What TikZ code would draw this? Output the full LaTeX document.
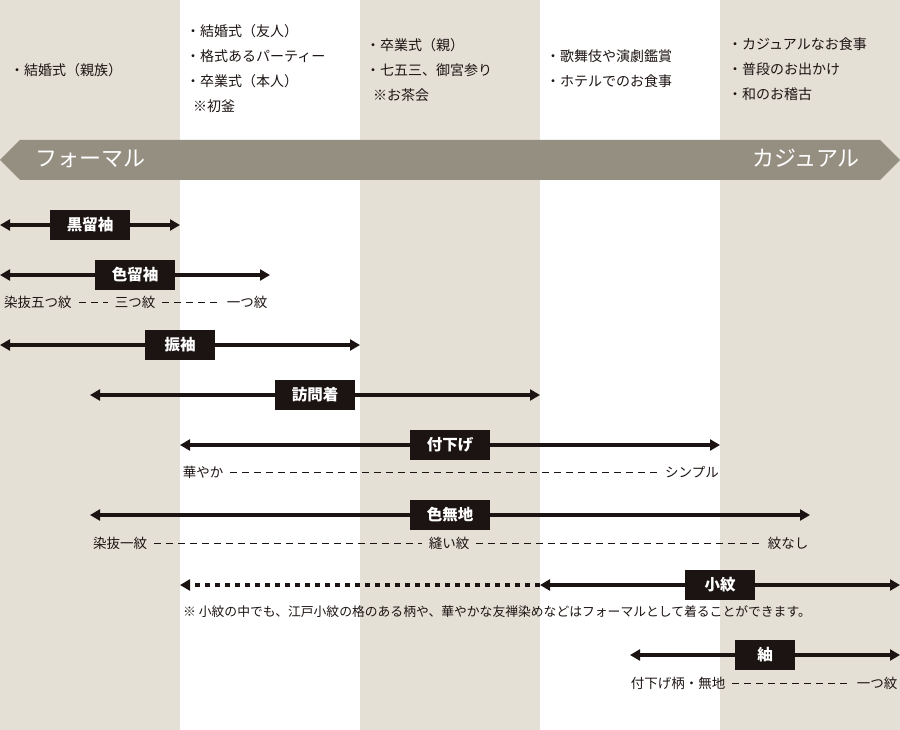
\documentclass[tikz,border=0pt]{standalone}
\usepackage{fontspec}
\setmainfont{Noto Sans CJK JP}
\usetikzlibrary{arrows.meta}
\definecolor{beige}{HTML}{E4E0D6}
\definecolor{banner}{HTML}{958F82}
\definecolor{ink}{HTML}{1C1412}

\begin{document}
\begin{tikzpicture}[x=1pt, y=-1pt,
    scene/.style={inner sep=0pt, anchor=west, align=left, text=ink, font=\fontsize{14}{25}\selectfont},
    bannertext/.style={inner sep=0pt, text height=19.4pt, text depth=2.6pt, text=white, font=\fontsize{22}{22}\selectfont},
    kimono/.style={inner sep=0pt, text height=13.6pt, text depth=1.9pt, fill=ink, text=white, minimum height=30pt, font=\bfseries\fontsize{15.5}{15.5}\selectfont},
    arr/.style={draw=ink, line width=4pt, -{Triangle[length=10pt, width=11pt]}},
    dotarr/.style={arr, dash pattern=on 5pt off 5pt},
    grade/.style={inner ysep=0pt, inner xsep=7pt, text height=11.9pt, text depth=1.6pt, text=ink, font=\fontsize{13.5}{13.5}\selectfont},
    gradeline/.style={draw=ink, line width=0.8pt, dash pattern=on 7pt off 5pt},
    note/.style={inner sep=0pt, text height=11.3pt, text depth=1.5pt, anchor=west, text=ink, font=\fontsize{12.8}{12.8}\selectfont}]
    \useasboundingbox (0,0) rectangle (900,730);
    % Columns
    \foreach \c in {0,360,720} {
        \fill[beige] (\c,0) rectangle ++(180,730);
    }
    % Banner
    \fill[banner] (0,160) -- (20,140) -- (880,140) -- (900,160) -- (880,180) -- (20,180) -- cycle;
    \node[bannertext, anchor=west] (Formal) at (35,158) {フォーマル};
    \node[bannertext, anchor=east] (Casual) at (860,158) {カジュアル};
    % Occasions
    \node[scene] (Scene-1) at (10,70) {・結婚式（親族）};
    \node[scene] (Scene-2) at (186,69) {・結婚式（友人）\\・格式あるパーティー\\・卒業式（本人）\\\hspace*{7pt}※初釜};
    \node[scene] (Scene-3) at (366,70) {・卒業式（親）\\・七五三、御宮参り\\\hspace*{7pt}※お茶会};
    \node[scene] (Scene-4) at (546,69) {・歌舞伎や演劇鑑賞\\・ホテルでのお食事};
    \node[scene] (Scene-5) at (728,69) {・カジュアルなお食事\\・普段のお出かけ\\・和のお稽古};
    % Kimono
    \foreach \name/\x/\y/\w/\xl/\xr/\i in {黒留袖/90/225/80/0/180/1, 色留袖/135/275/80/0/270/2,
        振袖/180/345/70/0/360/3, 訪問着/315/395/80/90/540/4, 付下げ/450/445/80/180/720/5,
        色無地/450/515/80/90/810/6, 小紋/720/585/70/540/900/7, 紬/765/655/60/630/900/8} {
        \node[kimono, minimum width=\w pt] (Kimono-\i) at (\x,\y) {\name};
        \coordinate (Left-\i) at (\xl,\y);
        \coordinate (Right-\i) at (\xr,\y);
        \draw[arr] (Kimono-\i) -- (Left-\i);
        \draw[arr] (Kimono-\i) -- (Right-\i);
    }
    \coordinate (Far-7) at (180,585);
    \draw[dotarr] (Left-7) -- (Far-7);
    % Grades
    \node[grade] (Grade-2a) at (38,302) {染抜五つ紋};
    \node[grade] (Grade-2b) at (135,302) {三つ紋};
    \node[grade] (Grade-2c) at (247,302) {一つ紋};
    \node[grade] (Grade-5a) at (203,472) {華やか};
    \node[grade] (Grade-5b) at (692,472) {シンプル};
    \node[grade] (Grade-6a) at (120,543) {染抜一紋};
    \node[grade] (Grade-6b) at (449,543) {縫い紋};
    \node[grade] (Grade-6c) at (788,543) {紋なし};
    \node[grade] (Grade-8a) at (678,683) {付下げ柄・無地};
    \node[grade] (Grade-8b) at (877,683) {一つ紋};
    \foreach \a/\b in {2a/2b, 2b/2c, 5a/5b, 6a/6b, 6b/6c, 8a/8b} {
        \draw[gradeline] (Grade-\a) -- (Grade-\b);
    }
    % Note
    \node[note] (Note) at (183,612) {※ 小紋の中でも、江戸小紋の格のある柄や、華やかな友禅染めなどはフォーマルとして着ることができます。};
\end{tikzpicture}
\end{document}
